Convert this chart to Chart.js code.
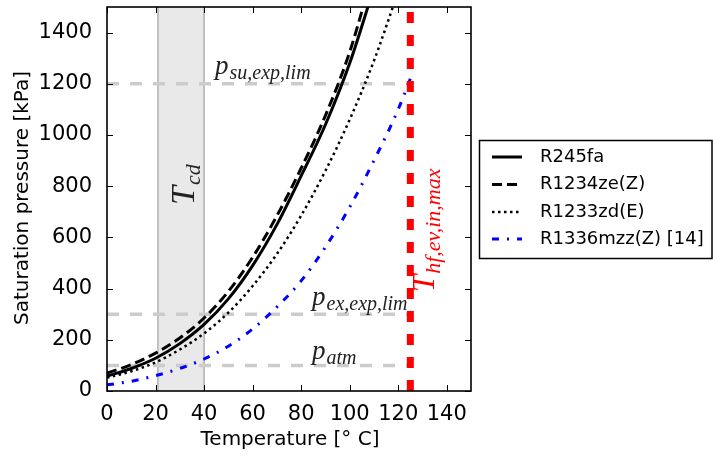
<!DOCTYPE html>
<html>
<head>
<meta charset="utf-8">
<script src="https://cdn.jsdelivr.net/npm/chart.js@4.4.1/dist/chart.umd.min.js"></script>
<style>
  html, body { margin: 0; padding: 0; background: #fff; }
  #wrap { width: 713px; height: 456px; }
</style>
</head>
<body>
<div id="wrap"><canvas id="chart" width="713" height="456"></canvas></div>
<script>
/* Saturation pressure curves [kPa] vs temperature [°C] */
const tR245fa = [0, 10, 20, 30, 40, 50, 60, 70, 80, 90, 100, 110];
const pR245fa = [58, 88, 128, 185, 260, 360, 490, 650, 840, 1040, 1280, 1575];

const tR1234ze = [0, 10, 20, 30, 40, 50, 60, 70, 80, 90, 100, 110];
const pR1234ze = [70, 103, 148, 207, 285, 389, 522, 684, 870, 1076, 1324, 1650];

const tR1233zd = [0, 10, 20, 30, 40, 50, 60, 70, 80, 90, 100, 110, 120];
const pR1233zd = [52, 77, 112, 162, 225, 306, 410, 535, 685, 860, 1060, 1290, 1560];

const tR1336 = [0, 10, 20, 30, 40, 50, 60, 70, 80, 90, 100, 110, 120, 125];
const pR1336 = [24, 38, 60, 88, 125, 175, 242, 328, 430, 562, 718, 900, 1100, 1220];

const seriesNames = ['R245fa', 'R1234ze(Z)', 'R1233zd(E)', 'R1336mzz(Z) [14]'];

/* limits drawn on the chart */
const refLevels = [1200, 300, 100];   // p_su,exp,lim / p_ex,exp,lim / p_atm
const refEndT   = 125;
const hfMaxT    = 125;                // T_hf,ev,in,max
const cdRange   = [21, 40];           // T_cd band

const xTicks = [0, 20, 40, 60, 80, 100, 120, 140];
const yTicks = [0, 200, 400, 600, 800, 1000, 1200, 1400];

const FONT = '"DejaVu Sans", sans-serif';
const MATH = '"Liberation Serif", serif';

function pts(ts, ps) { return ts.map((t, i) => ({ x: t, y: ps[i] })); }

function mathLabel(ctx, x, y, main, sub, color, mainSize, subSize, rotate) {
  ctx.save();
  ctx.translate(x, y);
  if (rotate) ctx.rotate(-Math.PI / 2);
  ctx.fillStyle = color;
  ctx.textBaseline = 'alphabetic';
  ctx.textAlign = 'left';
  ctx.font = `italic ${mainSize}px ${MATH}`;
  ctx.fillText(main, 0, 0);
  const w = ctx.measureText(main).width;
  ctx.font = `italic ${subSize}px ${MATH}`;
  ctx.fillText(sub, w + 1, subSize * 0.25);
  ctx.restore();
}

const decor = {
  id: 'decor',
  beforeDatasetsDraw(chart) {
    const { ctx, chartArea: a, scales: { x } } = chart;
    const x0 = x.getPixelForValue(cdRange[0]);
    const x1 = x.getPixelForValue(cdRange[1]);
    ctx.save();
    ctx.fillStyle = '#e9e9e9';
    ctx.fillRect(x0, a.top, x1 - x0, a.bottom - a.top);
    ctx.strokeStyle = '#b0b0b0';
    ctx.lineWidth = 1.5;
    [x0, x1].forEach(px => {
      ctx.beginPath(); ctx.moveTo(px, a.top); ctx.lineTo(px, a.bottom); ctx.stroke();
    });
    ctx.restore();
  },
  afterDraw(chart) {
    const { ctx, chartArea: a, scales: { x, y } } = chart;
    ctx.save();

    // frame + inward ticks on all sides
    ctx.strokeStyle = '#000';
    ctx.lineWidth = 1;
    ctx.beginPath();
    xTicks.forEach(v => {
      const px = Math.round(x.getPixelForValue(v)) + 0.5;
      ctx.moveTo(px, a.bottom); ctx.lineTo(px, a.bottom - 6);
      ctx.moveTo(px, a.top);    ctx.lineTo(px, a.top + 6);
    });
    yTicks.forEach(v => {
      const py = Math.round(y.getPixelForValue(v)) + 0.5;
      ctx.moveTo(a.left, py);  ctx.lineTo(a.left + 6, py);
      ctx.moveTo(a.right, py); ctx.lineTo(a.right - 6, py);
    });
    ctx.stroke();
    ctx.lineWidth = 1.6;
    ctx.strokeRect(a.left, a.top, a.right - a.left, a.bottom - a.top);

    // annotations
    mathLabel(ctx, 215, 74, 'p', 'su,exp,lim', '#222', 27, 20, false);
    mathLabel(ctx, 312, 305, 'p', 'ex,exp,lim', '#222', 27, 20, false);
    mathLabel(ctx, 312, 359, 'p', 'atm', '#222', 27, 20, false);
    mathLabel(ctx, 194, 205, 'T', 'cd', '#222', 34, 22, true);
    mathLabel(ctx, 434, 292, 'T', 'hf,ev,in,max', '#ff0000', 31, 22, true);

    // axis titles
    ctx.fillStyle = '#000';
    ctx.font = `20px ${FONT}`;
    ctx.textAlign = 'center';
    ctx.textBaseline = 'middle';
    ctx.fillText('Temperature [° C]', 290, 440);
    ctx.save();
    ctx.translate(23, 198);
    ctx.rotate(-Math.PI / 2);
    ctx.fillText('Saturation pressure [kPa]', 0, 0);
    ctx.restore();

    // legend box
    ctx.strokeStyle = '#000';
    ctx.lineWidth = 1.5;
    ctx.strokeRect(479.5, 140.5, 232.5, 118);
    ctx.font = `18px ${FONT}`;
    ctx.textAlign = 'left';
    ctx.textBaseline = 'middle';
    const rows = [157, 184.5, 212, 239];
    seriesNames.forEach((name, i) => {
      const ds = chart.data.datasets.find(d => d.label === name);
      ctx.save();
      ctx.strokeStyle = ds.borderColor;
      ctx.lineWidth = ds.borderWidth;
      ctx.setLineDash(ds.borderDash || []);
      ctx.beginPath(); ctx.moveTo(492, rows[i]); ctx.lineTo(522, rows[i]); ctx.stroke();
      ctx.restore();
      ctx.fillStyle = '#000';
      ctx.fillText(name, 540, rows[i]);
    });
    ctx.restore();
  }
};

const curveBase = { pointRadius: 0, fill: false, cubicInterpolationMode: 'monotone' };

const datasets = [
  { label: 'hf', data: [{ x: hfMaxT, y: 0 }, { x: hfMaxT, y: 1500 }],
    borderColor: '#ff0000', borderWidth: 7, borderDash: [11, 12], pointRadius: 0, order: 0 },
  Object.assign({ label: seriesNames[0], data: pts(tR245fa, pR245fa),
    borderColor: '#000', borderWidth: 3, order: 1 }, curveBase),
  Object.assign({ label: seriesNames[1], data: pts(tR1234ze, pR1234ze),
    borderColor: '#000', borderWidth: 3, borderDash: [10, 5], order: 2 }, curveBase),
  Object.assign({ label: seriesNames[2], data: pts(tR1233zd, pR1233zd),
    borderColor: '#000', borderWidth: 2.5, borderDash: [2.5, 3.5], order: 3 }, curveBase),
  Object.assign({ label: seriesNames[3], data: pts(tR1336, pR1336),
    borderColor: '#0000ff', borderWidth: 3, borderDash: [7, 8, 2, 8], order: 4 }, curveBase),
];
refLevels.forEach(p => datasets.push({
  label: 'ref' + p, data: [{ x: 0, y: p }, { x: refEndT, y: p }],
  borderColor: '#cccccc', borderWidth: 3.5, borderDash: [12, 11], pointRadius: 0, order: 10
}));

new Chart(document.getElementById('chart'), {
  type: 'line',
  data: { datasets },
  options: {
    responsive: false,
    animation: false,
    devicePixelRatio: 1,
    events: [],
    layout: { padding: { top: 7, right: 242, left: 0, bottom: 0 } },
    plugins: { legend: { display: false }, tooltip: { enabled: false } },
    scales: {
      x: {
        type: 'linear', min: 0, max: 150,
        grid: { display: false }, border: { display: false },
        afterBuildTicks: s => { s.ticks = xTicks.map(v => ({ value: v })); },
        afterFit: s => { s.height = 65; s.paddingLeft = 0; s.paddingRight = 0; },
        ticks: { color: '#000', font: { family: FONT, size: 21 }, padding: 3,
                 maxRotation: 0, autoSkip: false, callback: v => String(v) },
      },
      y: {
        type: 'linear', min: 0, max: 1500,
        grid: { display: false }, border: { display: false },
        afterBuildTicks: s => { s.ticks = yTicks.map(v => ({ value: v })); },
        afterFit: s => { s.width = 107; s.paddingTop = 0; s.paddingBottom = 0; },
        ticks: { color: '#000', font: { family: FONT, size: 21 }, padding: 7,
                 autoSkip: false, callback: v => String(v) },
      },
    },
  },
  plugins: [decor],
});
</script>
</body>
</html>
